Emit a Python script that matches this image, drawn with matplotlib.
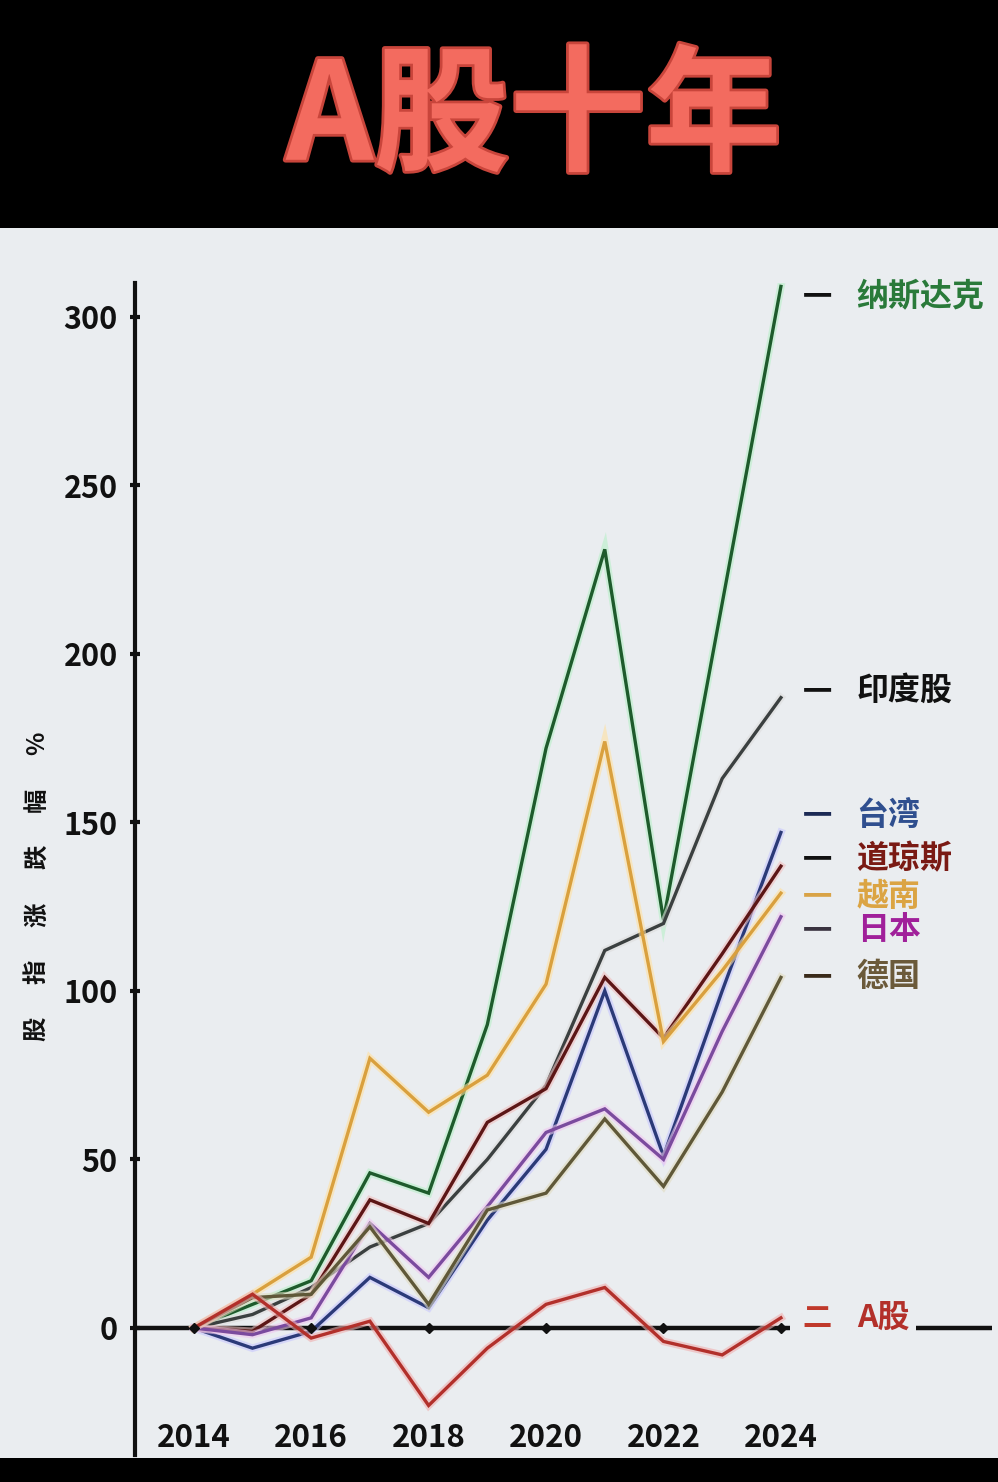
'''
A股十年 - ten years of stock index gains
'''

import matplotlib
matplotlib.use('Agg')
import matplotlib.pyplot as plt
import matplotlib.patheffects as pe
from matplotlib.patches import Rectangle

plt.rcParams['font.family'] = ['Noto Sans CJK SC', 'DejaVu Sans']

years = list(range(2014, 2025))
year_labels = [2014, 2016, 2018, 2020, 2022, 2024]

#index gains in % vs 2014
nasdaq  = [0, 7, 14, 46, 40, 90, 172, 231, 121, 215, 309]
india   = [0, 4, 12, 24, 31, 50, 72, 112, 120, 163, 187]
taiwan  = [0, -6, -1, 15, 6, 32, 53, 100, 51, 100, 147]
dow     = [0, -1, 10, 38, 31, 61, 71, 104, 86, 111, 137]
vietnam = [0, 10, 21, 80, 64, 75, 102, 174, 85, 106, 129]
japan   = [0, -2, 3, 31, 15, 36, 58, 65, 50, 88, 122]
germany = [0, 9, 10, 30, 7, 35, 40, 62, 42, 70, 104]
ashare  = [0, 10, -3, 2, -23, -6, 7, 12, -4, -8, 3]

names = ['纳斯达克', '印度股', '台湾', '道琼斯', '越南', '日本', '德国', 'A股']
series = [nasdaq, india, taiwan, dow, vietnam, japan, germany, ashare]
line_colors = ['#1e5b2c', '#3b4040', '#2b3a78', '#5c1616', '#d9a03e', '#7b4b9e', '#5f5838', '#b2302b']
dash_colors = ['#111111', '#111111', '#1c2a55', '#111111', '#d9a346', '#3a3340', '#3a2a1a', '#c0392b']
text_colors = ['#2a7a3a', '#111111', '#2f4f8f', '#7a1a14', '#dba443', '#a0209a', '#6b5a3a', '#b3302a']
glow_colors = ['#b8f0c8', '#dddddd', '#c8c8ff', '#f0c0c0', '#ffe0a0', '#f0c8f0', '#e0dcc0', '#f0b0b0']
label_y = [306, 189, 152, 139, 128, 118, 104, 3]

yticks = [0, 50, 100, 150, 200, 250, 300]
ylabel_chars = ['股', '指', '涨', '跌', '幅', '%']

fig = plt.figure(figsize=(9.98, 14.82), dpi=100, facecolor='black')
#light chart panel between the black bands
fig.patches.append(Rectangle((0, 0.0162), 1, 0.8300, transform=fig.transFigure,
                             facecolor='#eaedf0', edgecolor='none', zorder=-10))

fig.text(0.535, 0.919, 'A股十年', color='#f36b5f', fontsize=98, fontweight='bold',
         ha='center', va='center',
         path_effects=[pe.withStroke(linewidth=4, foreground='#c9453b')])

ax = fig.add_axes([0.1353, 0.0182, 0.656, 0.7908])
ax.set_facecolor('none')
ax.set_xlim(2013.0, 2024.15)
ax.set_ylim(-37.7, 310)

for s in ['top', 'right', 'bottom']:
    ax.spines[s].set_visible(False)
ax.spines['left'].set_linewidth(3)
ax.spines['left'].set_color('#111111')

ax.axhline(0, color='#111111', lw=3.2, zorder=1)
ax.hlines(0, 2026.3, 2027.6, color='#111111', lw=3.2, clip_on=False)
ax.plot(year_labels, [0]*len(year_labels), 'D', color='#111111', ms=5, zorder=5)

for vals, c, g in zip(series, line_colors, glow_colors):
    ax.plot(years, vals, color=c, lw=2.4, zorder=3, solid_joinstyle='miter',
            path_effects=[pe.Stroke(linewidth=5.5, foreground=g, alpha=0.6), pe.Normal()])

ax.set_yticks(yticks)
ax.set_yticklabels([str(t) for t in yticks], fontsize=22, fontweight='bold', color='#111111')
ax.tick_params(axis='y', direction='inout', length=7, width=3, pad=9, color='#111111')
ax.set_xticks([])

for yr in year_labels:
    ax.text(yr, -32.5, str(yr), ha='center', va='center', fontsize=22.5,
            fontweight='bold', color='#111111')

#y label, widely spaced characters
for i, ch in enumerate(ylabel_chars):
    fig.text(0.037, 0.306 + i*0.0385, ch, rotation=90, ha='center', va='center',
             fontsize=17.5, fontweight='bold', color='#111111')

#series labels on the right
for name, ly, dc, tc in zip(names, label_y, dash_colors, text_colors):
    dash = '二' if name == 'A股' else '一'
    ax.text(2024.37, ly, dash, color=dc, fontsize=21, fontweight='bold',
            ha='left', va='center', clip_on=False)
    ax.text(2025.29, ly, name, color=tc, fontsize=23, fontweight='bold',
            ha='left', va='center', clip_on=False)

plt.savefig('out.png', dpi=100, facecolor='black')
